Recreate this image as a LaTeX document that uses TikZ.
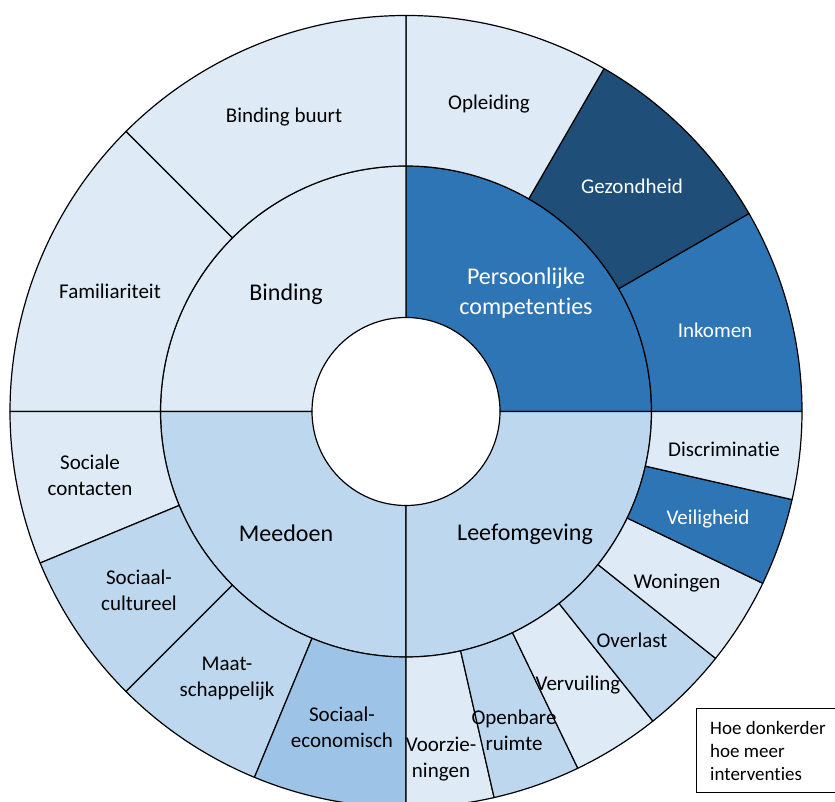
\documentclass[tikz,border=0pt]{standalone}
\usepackage{fontspec}
\setmainfont{Carlito}[Ligatures={NoCommon}]
\definecolor{cA}{HTML}{DEEBF7}
\definecolor{cB}{HTML}{BDD7EE}
\definecolor{cC}{HTML}{9DC3E6}
\definecolor{cD}{HTML}{2E75B6}
\definecolor{cE}{HTML}{1F4E79}
\newcommand\ringseg[5]{\filldraw[segm, fill=#5] (#1:#3pt) arc[start angle=#1, end angle=#2, radius=#3pt] -- (#2:#4pt) arc[start angle=#2, end angle=#1, radius=#4pt] -- cycle;}
\begin{document}
\begin{tikzpicture}[
  segm/.style={draw=black, line width=1.2pt, line join=round},
  lbl/.style={font=\fontsize{21}{26}\selectfont, align=center, inner sep=0pt, text=black},
  big/.style={font=\fontsize{24}{30}\selectfont, align=center, inner sep=0pt, text=black},
  wht/.style={text=white},
]
\useasboundingbox (0,0) rectangle (835pt,802pt);
\fill[white] (0,0) rectangle (835pt,802pt);
\begin{scope}[shift={(406pt,390.5pt)}]
  % inner ring
  \ringseg{0}{90}{94}{245.5}{cD}
  \ringseg{90}{180}{94}{245.5}{cA}
  \ringseg{180}{270}{94}{245.5}{cB}
  \ringseg{270}{360}{94}{245.5}{cB}
  % outer ring: Persoonlijke competenties
  \ringseg{0}{30}{245.5}{396}{cD}
  \ringseg{30}{60}{245.5}{396}{cE}
  \ringseg{60}{90}{245.5}{396}{cA}
  % Binding
  \ringseg{90}{135}{245.5}{396}{cA}
  \ringseg{135}{180}{245.5}{396}{cA}
  % Meedoen
  \ringseg{180}{202.5}{245.5}{396}{cA}
  \ringseg{202.5}{225}{245.5}{396}{cB}
  \ringseg{225}{247.5}{245.5}{396}{cB}
  \ringseg{247.5}{270}{245.5}{396}{cC}
  % Leefomgeving
  \ringseg{270}{282.857}{245.5}{396}{cA}
  \ringseg{282.857}{295.714}{245.5}{396}{cB}
  \ringseg{295.714}{308.571}{245.5}{396}{cA}
  \ringseg{308.571}{321.429}{245.5}{396}{cB}
  \ringseg{321.429}{334.286}{245.5}{396}{cA}
  \ringseg{334.286}{347.143}{245.5}{396}{cD}
  \ringseg{347.143}{360}{245.5}{396}{cA}
\end{scope}
% inner labels
\node[big] (binding) at (286pt,508pt) {Binding};
\node[big,wht] (pc) at (526pt,509pt) {Persoonlijke\\competenties};
\node[big] (meedoen) at (286pt,269pt) {Meedoen};
\node[big] (leef) at (525pt,268pt) {Leefomgeving};
% outer labels
\node[lbl] (bb) at (284pt,685pt) {Binding buurt};
\node[lbl] (fam) at (110pt,511pt) {Familiariteit};
\node[lbl] (opl) at (489pt,698pt) {Opleiding};
\node[lbl,wht] (gez) at (632pt,616pt) {Gezondheid};
\node[lbl,wht] (ink) at (715pt,472pt) {Inkomen};
\node[lbl] (disc) at (724pt,353pt) {Discriminatie};
\node[lbl,wht] (veil) at (708pt,283pt) {Veiligheid};
\node[lbl] (won) at (677pt,219pt) {Woningen};
\node[lbl] (ovl) at (632pt,162pt) {Overlast};
\node[lbl] (verv) at (578pt,117pt) {Vervuiling};
\node[lbl] (openb) at (514pt,72pt) {Openbare\\ruimte};
\node[lbl] (voorz) at (441pt,43pt) {Voorzie-\\ningen};
\node[lbl] (soc) at (90pt,327pt) {Sociale\\contacten};
\node[lbl] (soccult) at (139pt,212pt) {Sociaal-\\cultureel};
\node[lbl] (maat) at (227pt,123pt) {Maat-\\schappelijk};
\node[lbl] (soceco) at (342pt,75pt) {Sociaal-\\economisch};
% legend
\node[draw=black, line width=1.2pt, fill=white, minimum width=139pt, minimum height=84pt,
      inner sep=0pt, anchor=south west] (legend) at (696pt,9pt) {};
\node[align=left, inner sep=0pt, anchor=west, text=black,
      font=\fontsize{19}{23}\selectfont] (legtext) at (710pt,51pt)
      {Hoe donkerder\\hoe meer\\interventies};
\end{tikzpicture}
\end{document}
